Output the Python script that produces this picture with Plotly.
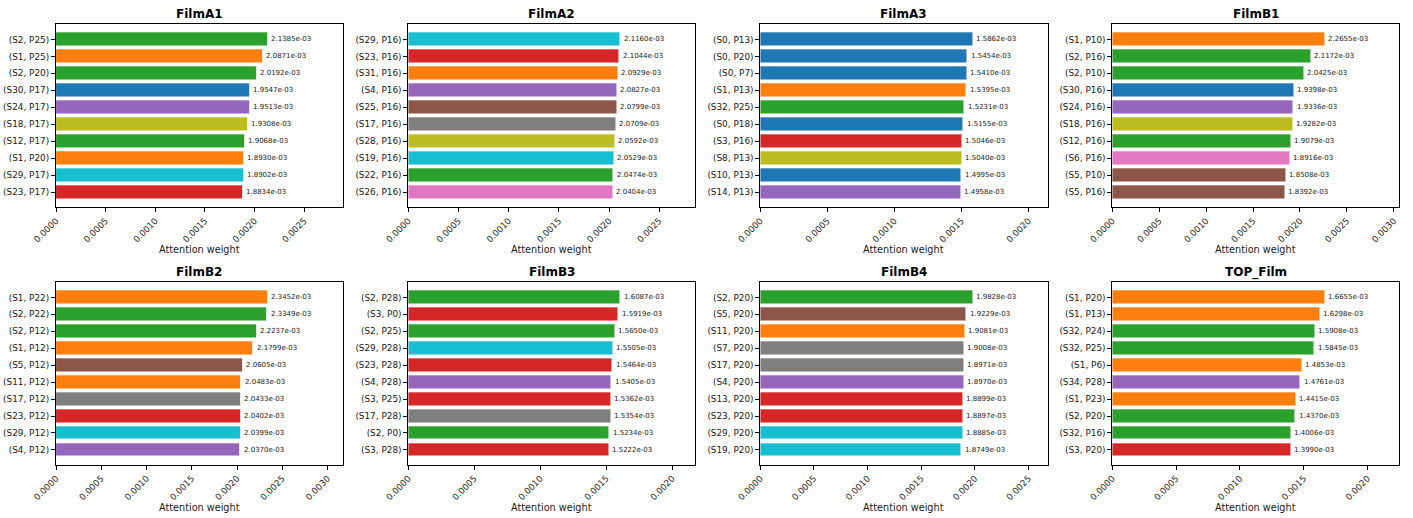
import plotly.graph_objects as go
from plotly.subplots import make_subplots

TITLES = ["FilmA1", "FilmA2", "FilmA3", "FilmB1", "FilmB2", "FilmB3", "FilmB4", "TOP_Film"]

FILMA1_LABELS = ["(S2, P25)", "(S1, P25)", "(S2, P20)", "(S30, P17)", "(S24, P17)",
                 "(S18, P17)", "(S12, P17)", "(S1, P20)", "(S29, P17)", "(S23, P17)"]
FILMA1_VALUES = [2.1385e-03, 2.0871e-03, 2.0192e-03, 1.9547e-03, 1.9513e-03,
                 1.9308e-03, 1.9068e-03, 1.8930e-03, 1.8902e-03, 1.8834e-03]

FILMA2_LABELS = ["(S29, P16)", "(S23, P16)", "(S31, P16)", "(S4, P16)", "(S25, P16)",
                 "(S17, P16)", "(S28, P16)", "(S19, P16)", "(S22, P16)", "(S26, P16)"]
FILMA2_VALUES = [2.1160e-03, 2.1044e-03, 2.0929e-03, 2.0827e-03, 2.0799e-03,
                 2.0709e-03, 2.0592e-03, 2.0529e-03, 2.0474e-03, 2.0404e-03]

FILMA3_LABELS = ["(S0, P13)", "(S0, P20)", "(S0, P7)", "(S1, P13)", "(S32, P25)",
                 "(S0, P18)", "(S3, P16)", "(S8, P13)", "(S10, P13)", "(S14, P13)"]
FILMA3_VALUES = [1.5862e-03, 1.5454e-03, 1.5410e-03, 1.5395e-03, 1.5231e-03,
                 1.5155e-03, 1.5046e-03, 1.5040e-03, 1.4995e-03, 1.4958e-03]

FILMB1_LABELS = ["(S1, P10)", "(S2, P16)", "(S2, P10)", "(S30, P16)", "(S24, P16)",
                 "(S18, P16)", "(S12, P16)", "(S6, P16)", "(S5, P10)", "(S5, P16)"]
FILMB1_VALUES = [2.2655e-03, 2.1172e-03, 2.0425e-03, 1.9398e-03, 1.9336e-03,
                 1.9282e-03, 1.9079e-03, 1.8916e-03, 1.8508e-03, 1.8392e-03]

FILMB2_LABELS = ["(S1, P22)", "(S2, P22)", "(S2, P12)", "(S1, P12)", "(S5, P12)",
                 "(S11, P12)", "(S17, P12)", "(S23, P12)", "(S29, P12)", "(S4, P12)"]
FILMB2_VALUES = [2.3452e-03, 2.3349e-03, 2.2237e-03, 2.1799e-03, 2.0605e-03,
                 2.0483e-03, 2.0433e-03, 2.0402e-03, 2.0399e-03, 2.0370e-03]

FILMB3_LABELS = ["(S2, P28)", "(S3, P0)", "(S2, P25)", "(S29, P28)", "(S23, P28)",
                 "(S4, P28)", "(S3, P25)", "(S17, P28)", "(S2, P0)", "(S3, P28)"]
FILMB3_VALUES = [1.6087e-03, 1.5919e-03, 1.5650e-03, 1.5505e-03, 1.5464e-03,
                 1.5405e-03, 1.5362e-03, 1.5354e-03, 1.5234e-03, 1.5222e-03]

FILMB4_LABELS = ["(S2, P20)", "(S5, P20)", "(S11, P20)", "(S7, P20)", "(S17, P20)",
                 "(S4, P20)", "(S13, P20)", "(S23, P20)", "(S29, P20)", "(S19, P20)"]
FILMB4_VALUES = [1.9828e-03, 1.9229e-03, 1.9081e-03, 1.9008e-03, 1.8971e-03,
                 1.8970e-03, 1.8899e-03, 1.8897e-03, 1.8885e-03, 1.8749e-03]

TOP_LABELS = ["(S1, P20)", "(S1, P13)", "(S32, P24)", "(S32, P25)", "(S1, P6)",
              "(S34, P28)", "(S1, P23)", "(S2, P20)", "(S32, P16)", "(S3, P20)"]
TOP_VALUES = [1.6655e-03, 1.6298e-03, 1.5908e-03, 1.5845e-03, 1.4853e-03,
              1.4761e-03, 1.4415e-03, 1.4370e-03, 1.4006e-03, 1.3990e-03]

PANELS = [
    (FILMA1_LABELS, FILMA1_VALUES), (FILMA2_LABELS, FILMA2_VALUES),
    (FILMA3_LABELS, FILMA3_VALUES), (FILMB1_LABELS, FILMB1_VALUES),
    (FILMB2_LABELS, FILMB2_VALUES), (FILMB3_LABELS, FILMB3_VALUES),
    (FILMB4_LABELS, FILMB4_VALUES), (TOP_LABELS, TOP_VALUES),
]

TAB10 = ['#1f77b4', '#ff7f0e', '#2ca02c', '#d62728', '#9467bd',
         '#8c564b', '#e377c2', '#7f7f7f', '#bcbd22', '#17becf']

W, H = 1413, 518
FONT = "DejaVu Sans"
TXT = "#1a1a1a"

# pixel layout of axes boxes
COL_X = [(56.0, 342.7), (408.3, 695.0), (760.3, 1047.5), (1112.3, 1399.3)]
ROW_Y = [(24.3, 207.3), (282.3, 465.0)]

fig = make_subplots(rows=2, cols=4)
annotations = []

for i, (title, (labels, vals)) in enumerate(zip(TITLES, PANELS)):
    r, c = i // 4, i % 4
    n = len(vals)
    ypos = list(range(n))
    colors = [TAB10[int(l.strip("()").split(",")[0].strip()[1:]) % 10] for l in labels]
    fig.add_trace(go.Bar(
        x=vals, y=ypos, orientation="h", width=0.8,
        marker=dict(color=colors, line=dict(color="white", width=0.8)),
        showlegend=False, hoverinfo="x+text", hovertext=labels,
    ), row=r + 1, col=c + 1)

    xmax = max(vals) * 1.35
    x0, x1 = COL_X[c]
    yt, yb = ROW_Y[r]
    fig.update_xaxes(
        domain=[x0 / W, x1 / W], range=[0, xmax], automargin=False,
        tick0=0, dtick=0.0005, tickformat=".4f", tickangle=-45,
        ticks="outside", ticklen=4, tickcolor="black", tickwidth=1,
        tickfont=dict(family=FONT, size=8.7, color=TXT),
        showline=True, mirror=True, linecolor="black", linewidth=1,
        showgrid=False, zeroline=False,
        row=r + 1, col=c + 1,
    )
    fig.update_yaxes(
        domain=[1 - yb / H, 1 - yt / H], range=[n - 1 + 0.89, -0.89], automargin=False,
        tickvals=ypos, ticktext=labels,
        ticks="outside", ticklen=4, tickcolor="black", tickwidth=1,
        tickfont=dict(family=FONT, size=8.9, color=TXT),
        showline=True, mirror=True, linecolor="black", linewidth=1,
        showgrid=False, zeroline=False,
        row=r + 1, col=c + 1,
    )

    xref = "x" if i == 0 else f"x{i + 1}"
    yref = "y" if i == 0 else f"y{i + 1}"
    for v, yy in zip(vals, ypos):
        annotations.append(dict(
            x=v + max(vals) * 0.01, y=yy, xref=xref, yref=yref,
            text=f"{v:.4e}", showarrow=False, xanchor="left", yanchor="middle",
            borderpad=0, font=dict(family=FONT, size=7, color=TXT),
        ))
    # subplot title
    annotations.append(dict(
        x=(x0 + x1) / 2 / W, y=1 - (yt - 10) / H, xref="paper", yref="paper",
        text=f"<b>{title}</b>", showarrow=False, xanchor="center", yanchor="middle",
        font=dict(family=FONT, size=12, color="black"),
    ))
    # x axis title
    annotations.append(dict(
        x=(x0 + x1) / 2 / W, y=1 - (yb + 42) / H, xref="paper", yref="paper",
        text="Attention weight", showarrow=False, xanchor="center", yanchor="middle",
        font=dict(family=FONT, size=9.7, color=TXT),
    ))

fig.update_layout(
    width=W, height=H, margin=dict(l=0, r=0, t=0, b=0, autoexpand=False),
    paper_bgcolor="white", plot_bgcolor="white",
    annotations=annotations, bargap=0,
    font=dict(family=FONT),
)

fig.write_html("out.html", post_script="document.body.style.margin='0';",
               config={"displayModeBar": False})
